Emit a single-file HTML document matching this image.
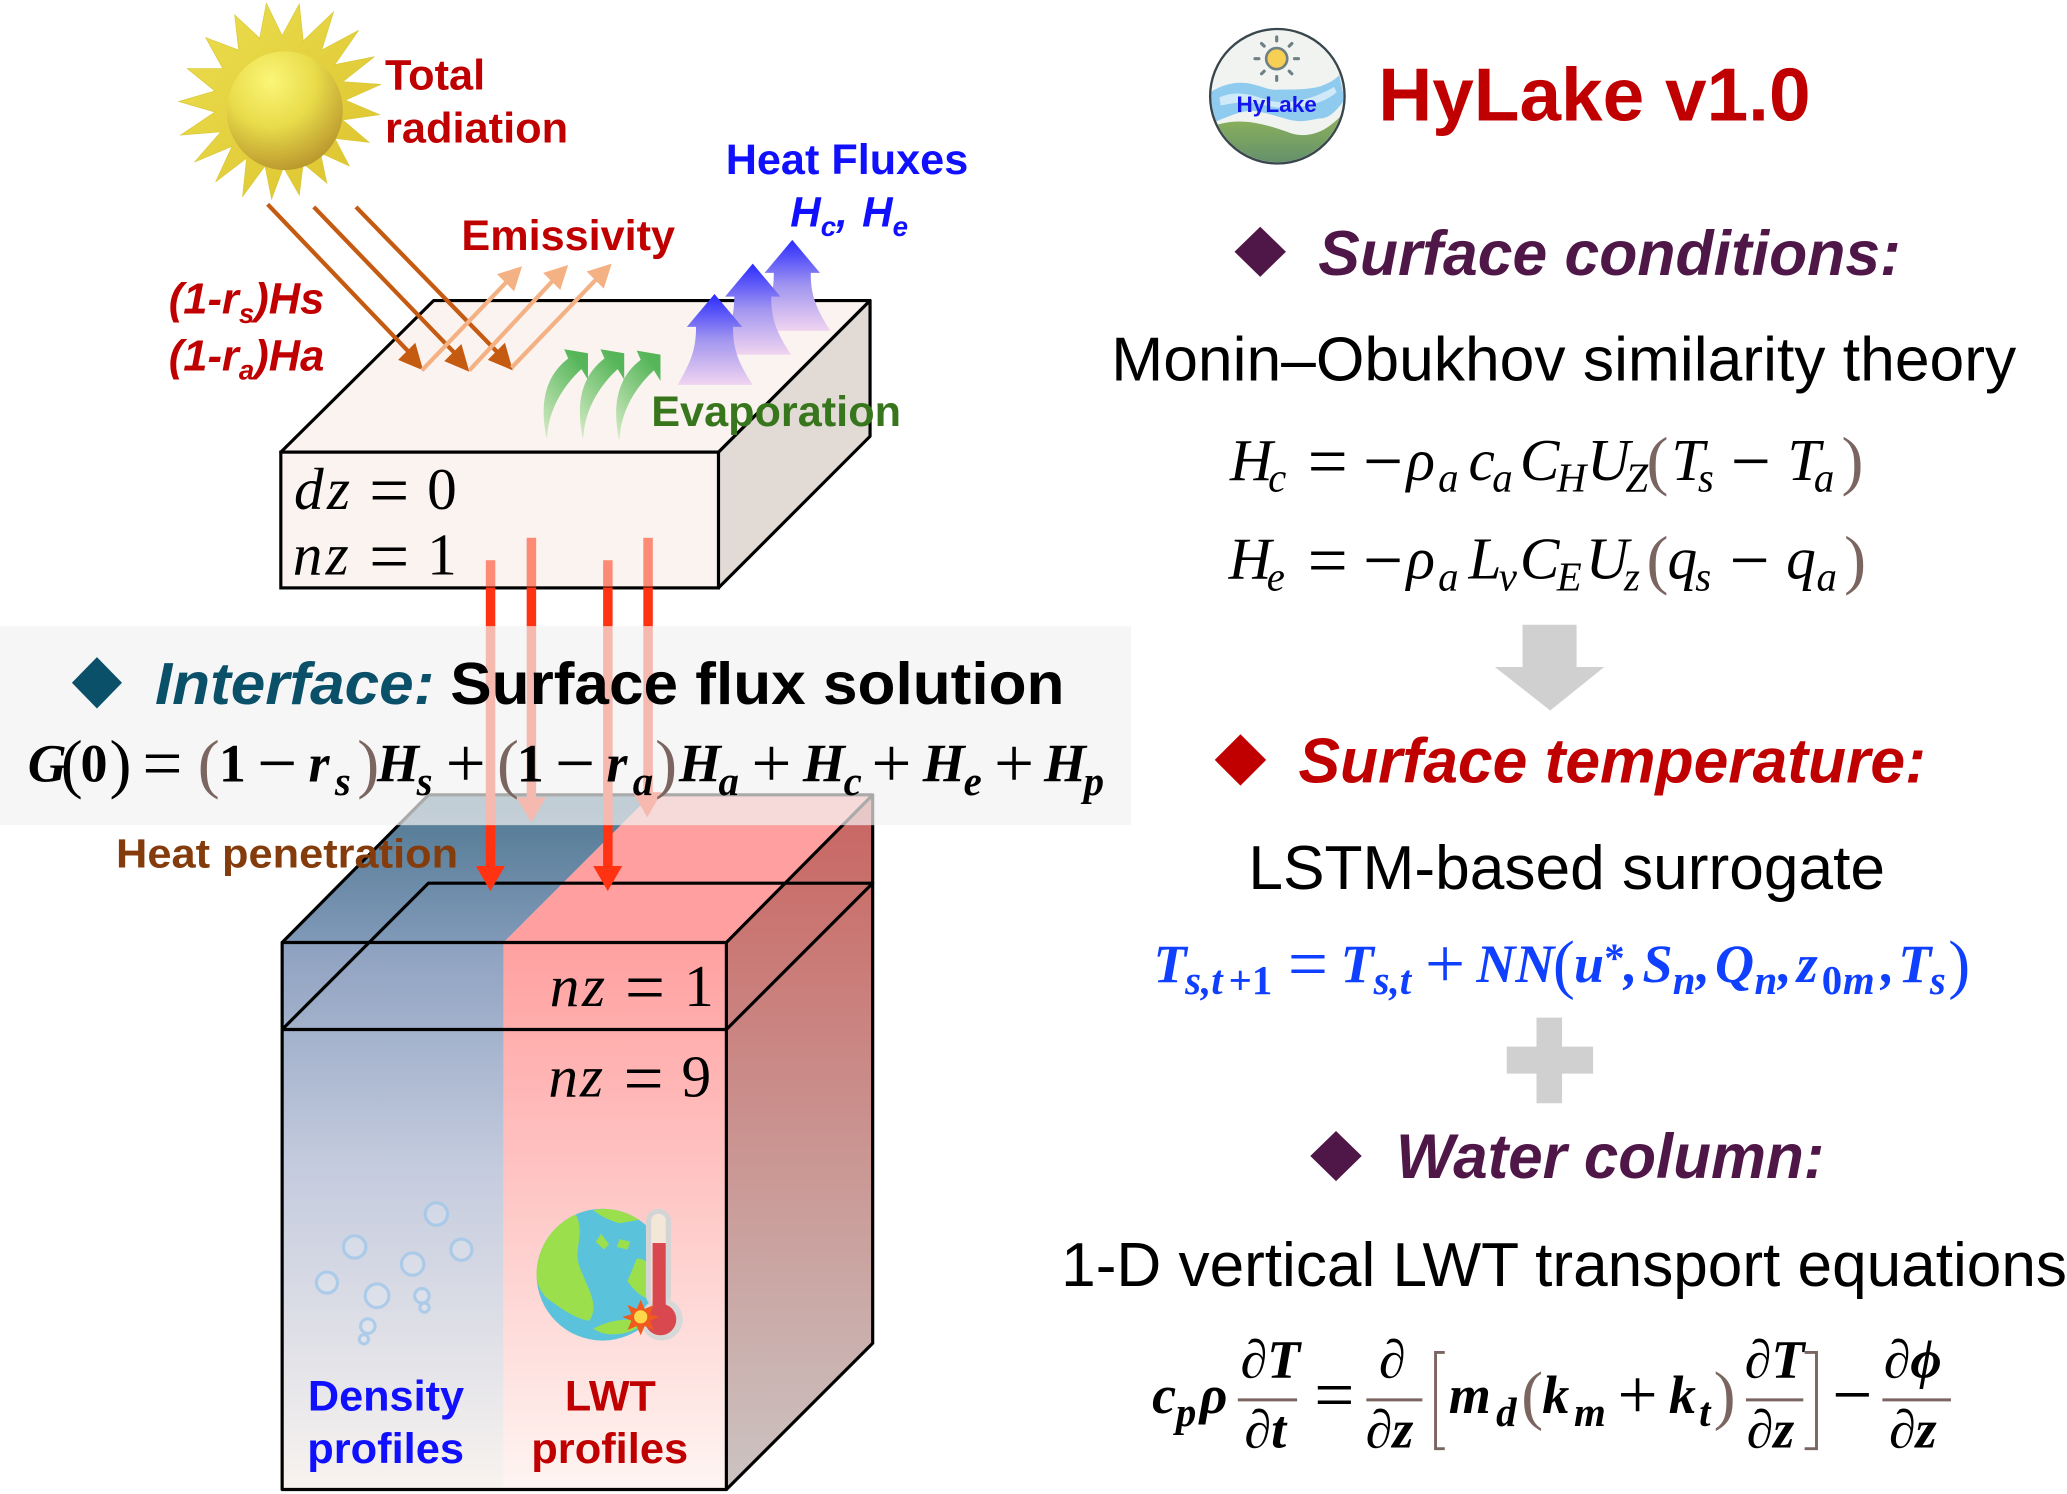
<!DOCTYPE html>
<html><head><meta charset="utf-8"><title>HyLake v1.0</title>
<style>
html,body{margin:0;padding:0;background:#fff;width:2067px;height:1494px;overflow:hidden}
svg{display:block}
text{font-family:"Liberation Sans",sans-serif;white-space:pre}
.b{font-weight:bold}
.bi{font-weight:bold;font-style:italic}
.m,.mb{font-family:"Liberation Serif",serif;font-style:italic}
.m{font-size:45px}.mb{font-size:41px;font-weight:bold}
.s{font-size:31px}.u{font-style:normal}.p{fill:#7a6560;font-style:normal}
.o{font-style:normal;font-size:54px;font-weight:normal}
.pb{font-size:50px;font-weight:normal}
</style></head><body>
<svg xmlns="http://www.w3.org/2000/svg" width="2067" height="1494" viewBox="0 0 1568 1133.4">
<defs>
<radialGradient id="disc" cx=".38" cy=".25" r=".85"><stop offset="0" stop-color="#fbf678"/><stop offset=".45" stop-color="#e9dc4a"/><stop offset="1" stop-color="#b08a28"/></radialGradient>
<linearGradient id="spike" x1="0" y1="0" x2="1" y2="1"><stop offset="0" stop-color="#ecdf50"/><stop offset="1" stop-color="#dcc22c"/></linearGradient>
<linearGradient id="blu" x1="0" y1="0" x2="0" y2="1"><stop offset="0" stop-color="#2a2aff"/><stop offset=".5" stop-color="#a195f0"/><stop offset="1" stop-color="#f0d4f0"/></linearGradient>
<linearGradient id="grn" x1="0" y1="1" x2=".6" y2="0"><stop offset="0" stop-color="#d5ecc6"/><stop offset="1" stop-color="#55b558"/></linearGradient>
<linearGradient id="fl" x1="0" y1="0" x2="0" y2="1"><stop offset="0" stop-color="#8da1c0"/><stop offset=".41" stop-color="#c4cbde"/><stop offset="1" stop-color="#f8f3ef"/></linearGradient>
<linearGradient id="fr" x1="0" y1="0" x2="0" y2="1"><stop offset="0" stop-color="#ffa0a0"/><stop offset="1" stop-color="#fef5f2"/></linearGradient>
<linearGradient id="tl" x1="0" y1="0" x2="0" y2="1"><stop offset="0" stop-color="#4e7790"/><stop offset="1" stop-color="#8099b8"/></linearGradient>
<linearGradient id="sd" x1="0" y1="0" x2="0" y2="1"><stop offset="0" stop-color="#c96460"/><stop offset="1" stop-color="#cbc4c2"/></linearGradient>
<linearGradient id="lg" x1="0" y1="0" x2="0" y2="1"><stop offset="0" stop-color="#93b858"/><stop offset="1" stop-color="#5d8a6e"/></linearGradient>
<clipPath id="lc"><circle cx="969" cy="73" r="50"/></clipPath>
<clipPath id="gc"><circle cx="457" cy="967" r="50"/></clipPath>
</defs>

<!-- Sun -->
<polygon fill="url(#spike)" stroke="#d8c83a" stroke-width=".5" points="202,2.4 214,27 227,3 230,31 253,9 244,38 272,23 254,49 284,43 260,62 289,64 262,76 288,87 260,91 280,108 254,105 265,126 243,116 248,139 230,124 227,148 215,127 206,151 201,126 184,149 187,120 163.5,138 176,111 147.5,123 167.5,100 137,102.5 163,85 135.5,77 163,69 142,52 169,52 156,28.5 181,38 178,11.4 197,29"/>
<ellipse cx="216" cy="84" rx="44" ry="45" fill="url(#disc)"/>

<!-- Top box -->
<polygon points="545,343 660,228 660,331 545,446" fill="#e2dad5" stroke="#000" stroke-width="2.4" stroke-linejoin="round"/>
<polygon points="213,343 329,228 660,228 545,343" fill="#fbf3ef" stroke="#000" stroke-width="2.4" stroke-linejoin="round"/>
<rect x="213" y="343" width="332" height="103" fill="#fbf3ef" stroke="#000" stroke-width="2.4"/>

<!-- Radiation arrows -->
<g stroke="#c55a11" stroke-width="3.2" fill="#c55a11">
<line x1="203" y1="155" x2="312" y2="269"/><polygon points="321,281 302,273 315,260" stroke="none"/>
<line x1="238" y1="157" x2="347" y2="270"/><polygon points="356,282 337,274 350,261" stroke="none"/>
<line x1="270" y1="157" x2="380" y2="270"/><polygon points="389,281 370,273 383,260" stroke="none"/>
</g>
<g stroke="#f4b183" stroke-width="3.2" fill="#f4b183">
<line x1="320" y1="281" x2="388" y2="210"/><polygon points="396,202 390,221 377,208" stroke="none"/>
<line x1="356" y1="281" x2="423" y2="209"/><polygon points="431,201 425,220 412,207" stroke="none"/>
<line x1="388" y1="279" x2="456" y2="208"/><polygon points="464,200 458,219 445,206" stroke="none"/>
</g>

<!-- Green arrows -->
<g fill="url(#grn)">
<path d="M414.5,332 C409,305 414,285 431,272 L428,265 L446,268 L446,288 L441,280 C428,292 416,310 415,332Z"/>
<path transform="translate(27.5,0)" d="M414.5,332 C409,305 414,285 431,272 L428,265 L446,268 L446,288 L441,280 C428,292 416,310 415,332Z"/>
<path transform="translate(55,1)" d="M414.5,332 C409,305 414,285 431,272 L428,265 L446,268 L446,288 L441,280 C428,292 416,310 415,332Z"/>
</g>
<!-- Blue arrows -->
<g fill="url(#blu)">
<path transform="translate(59,-41)" d="M514,292 C524,275 528,265 528,248 L521,248 L542,223 L563,248 L556,248 C556,265 560,275 571,292Z"/>
<path transform="translate(29,-23)" d="M514,292 C524,275 528,265 528,248 L521,248 L542,223 L563,248 L556,248 C556,265 560,275 571,292Z"/>
<path d="M514,292 C524,275 528,265 528,248 L521,248 L542,223 L563,248 L556,248 C556,265 560,275 571,292Z"/>
</g>

<!-- Lower box -->
<polygon points="214,715 325,603 494,603 382,715" fill="url(#tl)"/>
<polygon points="382,715 494,603 662,603 551,715" fill="#ff9f9f"/>
<polygon points="551,715 662,603 662,1019 551,1130" fill="url(#sd)"/>
<rect x="214" y="715" width="168" height="415" fill="url(#fl)"/>
<rect x="382" y="715" width="169" height="415" fill="url(#fr)"/>
<g fill="none" stroke="#000" stroke-width="2.4" stroke-linejoin="round">
<rect x="214" y="715" width="337" height="415"/>
<path d="M214,781 H551 L662,670 H325 L214,781"/>
<path d="M214,715 L325,603 H662 L551,715 M662,603 V1019 L551,1130"/>
</g>

<!-- Bubbles -->
<g fill="#e6edf6" fill-opacity=".35" stroke="#a2c8ea" stroke-width="2.4" opacity=".8">
<circle cx="331" cy="921" r="8.5"/><circle cx="269" cy="946" r="8.5"/><circle cx="350" cy="948" r="8"/>
<circle cx="313" cy="959" r="8.5"/><circle cx="248" cy="973" r="8"/><circle cx="286" cy="983" r="9"/>
<circle cx="320" cy="983" r="5.5"/><circle cx="322" cy="992" r="3.5"/><circle cx="279" cy="1006" r="5.5"/><circle cx="276" cy="1016" r="3.5"/>
</g>

<!-- Globe + thermometer -->
<circle cx="457" cy="967" r="50" fill="#5bc2dc"/>
<g clip-path="url(#gc)" fill="#9be04c">
<path d="M407,960 C412,940 422,925 436,920 C445,935 434,948 440,962 C446,978 455,990 447,1002 C435,1000 425,992 415,985 C408,978 406,970 407,960Z"/>
<path d="M450,918 C465,915 480,920 487,925 L470,928 C460,925 455,922 450,918Z"/>
<path d="M483,955 C492,953 500,970 500,985 C495,988 485,985 476,972Z"/>
<path d="M450,1008 C465,1000 480,1000 490,1003 C480,1012 462,1016 450,1008Z"/>
<path d="M452,942 L456,936 L462,944 L458,948Z"/>
<path d="M470,940 L478,942 L476,948 L468,946Z"/>
</g>
<rect x="490" y="917" width="19" height="75" rx="9.5" fill="#d4d4d4"/>
<circle cx="502" cy="1001" r="16" fill="#d8d8d8"/>
<rect x="494" y="921" width="11" height="70" rx="5" fill="#f3e8d8"/>
<rect x="495" y="943" width="10" height="50" fill="#d9484e"/>
<circle cx="501" cy="1001" r="12" fill="#d9484e"/>
<polygon points="486,986 489,993 496,990 493,997 500,999 493,1002 496,1009 489,1006 486,1013 483,1006 476,1009 479,1002 472,999 479,997 476,990 483,993" fill="#f05a1e"/>
<circle cx="486" cy="999" r="5" fill="#ffd84a"/>

<!-- Red downward arrows -->
<g fill="#ff3311">
<rect x="368.5" y="425" width="7.2" height="21" opacity=".55"/><rect x="368.5" y="446" width="7.2" height="212"/><polygon points="361,657 383,657 372,676"/>
<rect x="399.5" y="408" width="7.2" height="38" opacity=".55"/><rect x="399.5" y="446" width="7.2" height="160"/><polygon points="392,605 414,605 403,624"/>
<rect x="457.5" y="425" width="7.2" height="21" opacity=".55"/><rect x="457.5" y="446" width="7.2" height="212"/><polygon points="450,657 472,657 461,676"/>
<rect x="488" y="408" width="7.2" height="38" opacity=".55"/><rect x="488" y="446" width="7.2" height="156"/><polygon points="480,601 502,601 491,620"/>
</g>

<!-- Interface band -->
<rect x="0" y="475" width="858" height="151" fill="#f2f2f2" opacity=".7"/>

<!-- Left labels -->
<g fill="#c00000" font-size="32">
<text class="b" x="292" y="68" textLength="76" lengthAdjust="spacingAndGlyphs">Total</text>
<text class="b" x="292" y="108" textLength="139" lengthAdjust="spacingAndGlyphs">radiation</text>
<text class="b" x="350" y="189.5" textLength="162" lengthAdjust="spacingAndGlyphs">Emissivity</text>
<text class="bi" font-size="33" x="128" y="238">(1-r<tspan font-size="21" dy="7">s</tspan><tspan dy="-7">)Hs</tspan></text>
<text class="bi" font-size="33" x="128" y="281">(1-r<tspan font-size="21" dy="7">a</tspan><tspan dy="-7">)Ha</tspan></text>
</g>
<text class="b" fill="#1010ff" font-size="32" x="550.5" y="132" textLength="184" lengthAdjust="spacingAndGlyphs">Heat Fluxes</text>
<text class="bi" fill="#1010ff" font-size="32" x="599.5" y="172">H<tspan font-size="21" dy="7">c</tspan><tspan dy="-7">,</tspan><tspan x="654">H</tspan><tspan font-size="21" dy="7">e</tspan></text>
<text class="b" fill="#38761d" font-size="32" x="494" y="323" textLength="189.5" lengthAdjust="spacingAndGlyphs">Evaporation</text>

<text class="m" y="386"><tspan x="223">d</tspan><tspan x="248">z</tspan><tspan class="o" x="280" y="390">=</tspan><tspan class="u" x="324" y="386">0</tspan></text>
<text class="m" y="436"><tspan x="222">n</tspan><tspan x="247">z</tspan><tspan class="o" x="280" y="440">=</tspan><tspan class="u" x="324" y="436">1</tspan></text>

<!-- Interface text -->
<polygon points="73.5,498.5 92.5,518 73.5,537.5 54.5,518" fill="#0b5069"/>
<text class="bi" fill="#0b5069" font-size="45" x="117.5" y="534" textLength="212" lengthAdjust="spacingAndGlyphs">Interface:</text>
<text class="b" fill="#000" font-size="45" x="341.5" y="534" textLength="466" lengthAdjust="spacingAndGlyphs">Surface flux solution</text>
<text class="mb" y="593"><tspan x="21">G</tspan><tspan class="u pb" x="46" y="596">(</tspan><tspan class="u" x="61" y="593">0</tspan><tspan class="u pb" x="83" y="596">)</tspan><tspan class="o" x="108" y="597">=</tspan><tspan class="p pb" x="150" y="596">(</tspan><tspan class="u" x="166" y="593">1</tspan><tspan class="o" x="195" y="597">−</tspan><tspan x="234" y="593">r</tspan><tspan class="s" x="254" y="603">s</tspan><tspan class="p pb" x="271" y="596">)</tspan><tspan x="286" y="593">H</tspan><tspan class="s" x="316" y="603">s</tspan><tspan class="o" x="338" y="597">+</tspan><tspan class="p pb" x="377" y="596">(</tspan><tspan class="u" x="392" y="593">1</tspan><tspan class="o" x="421" y="597">−</tspan><tspan x="460" y="593">r</tspan><tspan class="s" x="480" y="603">a</tspan><tspan class="p pb" x="497" y="596">)</tspan><tspan x="515" y="593">H</tspan><tspan class="s" x="545" y="603">a</tspan><tspan class="o" x="570" y="597">+</tspan><tspan x="609" y="593">H</tspan><tspan class="s" x="640" y="603">c</tspan><tspan class="o" x="661" y="597">+</tspan><tspan x="700" y="593">H</tspan><tspan class="s" x="731" y="603">e</tspan><tspan class="o" x="754" y="597">+</tspan><tspan x="792" y="593">H</tspan><tspan class="s" x="822" y="603">p</tspan></text>

<text class="b" fill="#843c0c" font-size="31" x="88" y="658" textLength="259.5" lengthAdjust="spacingAndGlyphs">Heat penetration</text>

<text class="m" y="763"><tspan x="417">n</tspan><tspan x="441.5">z</tspan><tspan class="o" x="474" y="767">=</tspan><tspan class="u" x="519" y="763">1</tspan></text>
<text class="m" y="832"><tspan x="416">n</tspan><tspan x="440">z</tspan><tspan class="o" x="473" y="836">=</tspan><tspan class="u" x="517" y="832">9</tspan></text>

<text class="b" fill="#1010ff" font-size="32" x="233.5" y="1070" textLength="118.5" lengthAdjust="spacingAndGlyphs">Density</text>
<text class="b" fill="#1010ff" font-size="32" x="233" y="1110" textLength="119" lengthAdjust="spacingAndGlyphs">profiles</text>
<text class="b" fill="#c00000" font-size="32" x="428.5" y="1070" textLength="69" lengthAdjust="spacingAndGlyphs">LWT</text>
<text class="b" fill="#c00000" font-size="32" x="403" y="1110" textLength="119" lengthAdjust="spacingAndGlyphs">profiles</text>

<!-- Logo -->
<circle cx="969" cy="73" r="50" fill="#f1f3f1"/>
<g clip-path="url(#lc)">
<path d="M915,98 C935,88 955,92 979,101 C995,106 1010,98 1022,82 V130 H915Z" fill="url(#lg)"/>
<path d="M915,72 C925,65 935,62 945,63 C955,64 962,69 970,68 C982,68 995,68 1003,65 C1008,63 1012,61 1016,57 L1020,76 C1012,86 1008,90 1000,90 C990,92 985,93 975,90 C965,87 955,84 948,84 C938,85 928,90 918,94Z" fill="#8fcbee"/>
<path d="M925,74 C938,68 950,72 962,76 C975,80 995,76 1012,66 L1014,70 C1000,82 975,84 960,80 C945,76 938,78 926,80Z" fill="#cfe9f8"/>
</g>
<circle cx="969" cy="73" r="51" fill="none" stroke="#39474c" stroke-width="1.8"/>
<circle cx="968.5" cy="44.5" r="8" fill="#f6cf55" stroke="#6f7f84" stroke-width="2"/>
<g stroke="#6f7f84" stroke-width="2.4" stroke-linecap="round">
<path d="M968.5,28 V31 M968.5,58 V61 M952,44.5 H955 M982,44.5 H985 M957,33 L959,35 M978,54 L980,56 M980,33 L978,35 M959,54 L957,56"/>
</g>
<text class="b" fill="#1414ee" font-size="17" x="938" y="85" textLength="61" lengthAdjust="spacingAndGlyphs">HyLake</text>
<text class="b" fill="#c00000" font-size="57" x="1045.5" y="91.5" textLength="328" lengthAdjust="spacingAndGlyphs">HyLake v1.0</text>

<!-- Surface conditions -->
<polygon points="956,172 975.5,191 956,210 936.5,191" fill="#4f1747"/>
<text class="bi" fill="#4f1747" font-size="48" x="1000" y="208.5" textLength="442" lengthAdjust="spacingAndGlyphs">Surface conditions:</text>
<text fill="#000" font-size="47" x="843" y="288.5" textLength="686.5" lengthAdjust="spacingAndGlyphs">Monin–Obukhov similarity theory</text>

<text class="m" y="364"><tspan x="933">H</tspan><tspan class="s" x="962" y="373">c</tspan><tspan class="o" x="992" y="368">=</tspan><tspan class="o" x="1034" y="368">−</tspan><tspan x="1067" y="364">ρ</tspan><tspan class="s" x="1091" y="373">a</tspan><tspan x="1114" y="364">c</tspan><tspan class="s" x="1132" y="373">a</tspan><tspan x="1153" y="364">C</tspan><tspan class="s" x="1181" y="373">H</tspan><tspan x="1202" y="364" dx="2">U</tspan><tspan class="s" x="1233" y="373">Z</tspan><tspan class="p pb" x="1249" y="366">(</tspan><tspan x="1268" y="364">T</tspan><tspan class="s" x="1288" y="373">s</tspan><tspan class="o" x="1313" y="368">−</tspan><tspan x="1356" y="364">T</tspan><tspan class="s" x="1376" y="373">a</tspan><tspan class="p pb" x="1397" y="366">)</tspan></text>
<text class="m" y="439"><tspan x="932">H</tspan><tspan class="s" x="961" y="448">e</tspan><tspan class="o" x="992" y="443">=</tspan><tspan class="o" x="1034" y="443">−</tspan><tspan x="1067" y="439">ρ</tspan><tspan class="s" x="1091" y="448">a</tspan><tspan x="1114" y="439">L</tspan><tspan class="s" x="1137" y="448">v</tspan><tspan x="1153" y="439">C</tspan><tspan class="s" x="1181" y="448">E</tspan><tspan x="1203" y="439">U</tspan><tspan class="s" x="1232" y="448">z</tspan><tspan class="p pb" x="1249" y="441">(</tspan><tspan x="1265" y="439">q</tspan><tspan class="s" x="1286" y="448">s</tspan><tspan class="o" x="1312" y="443">−</tspan><tspan x="1355" y="439">q</tspan><tspan class="s" x="1378" y="448">a</tspan><tspan class="p pb" x="1399" y="441">)</tspan></text>

<polygon points="1155,474 1196,474 1196,506 1217,506 1176,539 1134,506 1155,506" fill="#d0d0d0"/>

<!-- Surface temperature -->
<polygon points="941,557 960.5,576.5 941,596 921.5,576.5" fill="#c00000"/>
<text class="bi" fill="#c00000" font-size="48" x="985" y="593.5" textLength="476" lengthAdjust="spacingAndGlyphs">Surface temperature:</text>
<text fill="#000" font-size="47" x="947" y="674.5" textLength="483" lengthAdjust="spacingAndGlyphs">LSTM-based surrogate</text>

<text class="mb" fill="#0f3fff" y="745"><tspan x="875">T</tspan><tspan class="s" x="899" y="754">s,t</tspan><tspan class="s u" x="932" y="754">+1</tspan><tspan class="o" x="977" y="749">=</tspan><tspan x="1017" y="745">T</tspan><tspan class="s" x="1042" y="754">s,t</tspan><tspan class="o" x="1081" y="749">+</tspan><tspan x="1120" y="745">NN</tspan><tspan class="u pb" x="1178" y="748">(</tspan><tspan x="1194" y="745">u</tspan><tspan class="s u" x="1217" y="737">*</tspan><tspan x="1232" y="745">,</tspan><tspan x="1246">S</tspan><tspan class="s" x="1269" y="754">n</tspan><tspan x="1287" y="745">,</tspan><tspan x="1301">Q</tspan><tspan class="s" x="1331" y="754">n</tspan><tspan x="1349" y="745">,</tspan><tspan x="1363">z</tspan><tspan class="s u" x="1382" y="754">0</tspan><tspan class="s" x="1398" y="754">m</tspan><tspan x="1427" y="745">,</tspan><tspan x="1440">T</tspan><tspan class="s" x="1464" y="754">s</tspan><tspan class="u pb" x="1478" y="748">)</tspan></text>

<path d="M1165.6,772 H1185 V794 H1208.5 V814.5 H1185 V837 H1165.6 V814.5 H1143 V794 H1165.6Z" fill="#d0d0d0"/>

<!-- Water column -->
<polygon points="1013.5,858 1033,877 1013.5,896 994,877" fill="#4f1747"/>
<text class="bi" fill="#4f1747" font-size="48" x="1059" y="893.5" textLength="325" lengthAdjust="spacingAndGlyphs">Water column:</text>
<text fill="#000" font-size="47" x="805" y="975.5" textLength="763" lengthAdjust="spacingAndGlyphs">1-D vertical LWT transport equations</text>

<g>
<text class="mb" y="1072"><tspan x="874">c</tspan><tspan class="s" x="892" y="1082">p</tspan><tspan x="910" y="1072">ρ</tspan><tspan class="o" x="997" y="1076">=</tspan><tspan x="1099" y="1072">m</tspan><tspan class="s" x="1135" y="1082">d</tspan><tspan class="p pb" x="1154" y="1075">(</tspan><tspan x="1170" y="1072">k</tspan><tspan class="s" x="1194" y="1082">m</tspan><tspan class="o" x="1227" y="1076">+</tspan><tspan x="1266" y="1072">k</tspan><tspan class="s" x="1289" y="1082">t</tspan><tspan class="p pb" x="1300" y="1075">)</tspan><tspan class="o" x="1390" y="1076">−</tspan></text>
<text class="mb" y="1045" font-size="42"><tspan x="941">∂T</tspan><tspan x="1046">∂</tspan><tspan x="1323.5">∂T</tspan><tspan x="1429">∂ϕ</tspan></text>
<text class="mb" y="1098" font-size="42"><tspan x="944">∂t</tspan><tspan x="1036">∂z</tspan><tspan x="1325">∂z</tspan><tspan x="1433">∂z</tspan></text>
<g stroke="#7a6560" stroke-width="2.2" fill="none">
<path d="M939,1062 H984 M1036.5,1062 H1079 M1324.5,1062 H1368 M1428,1062 H1480"/>
<path d="M1096,1026 H1089 V1099 H1096 M1369,1026 H1378 V1099 H1369"/>
</g>
</g>
</svg>
</body></html>
